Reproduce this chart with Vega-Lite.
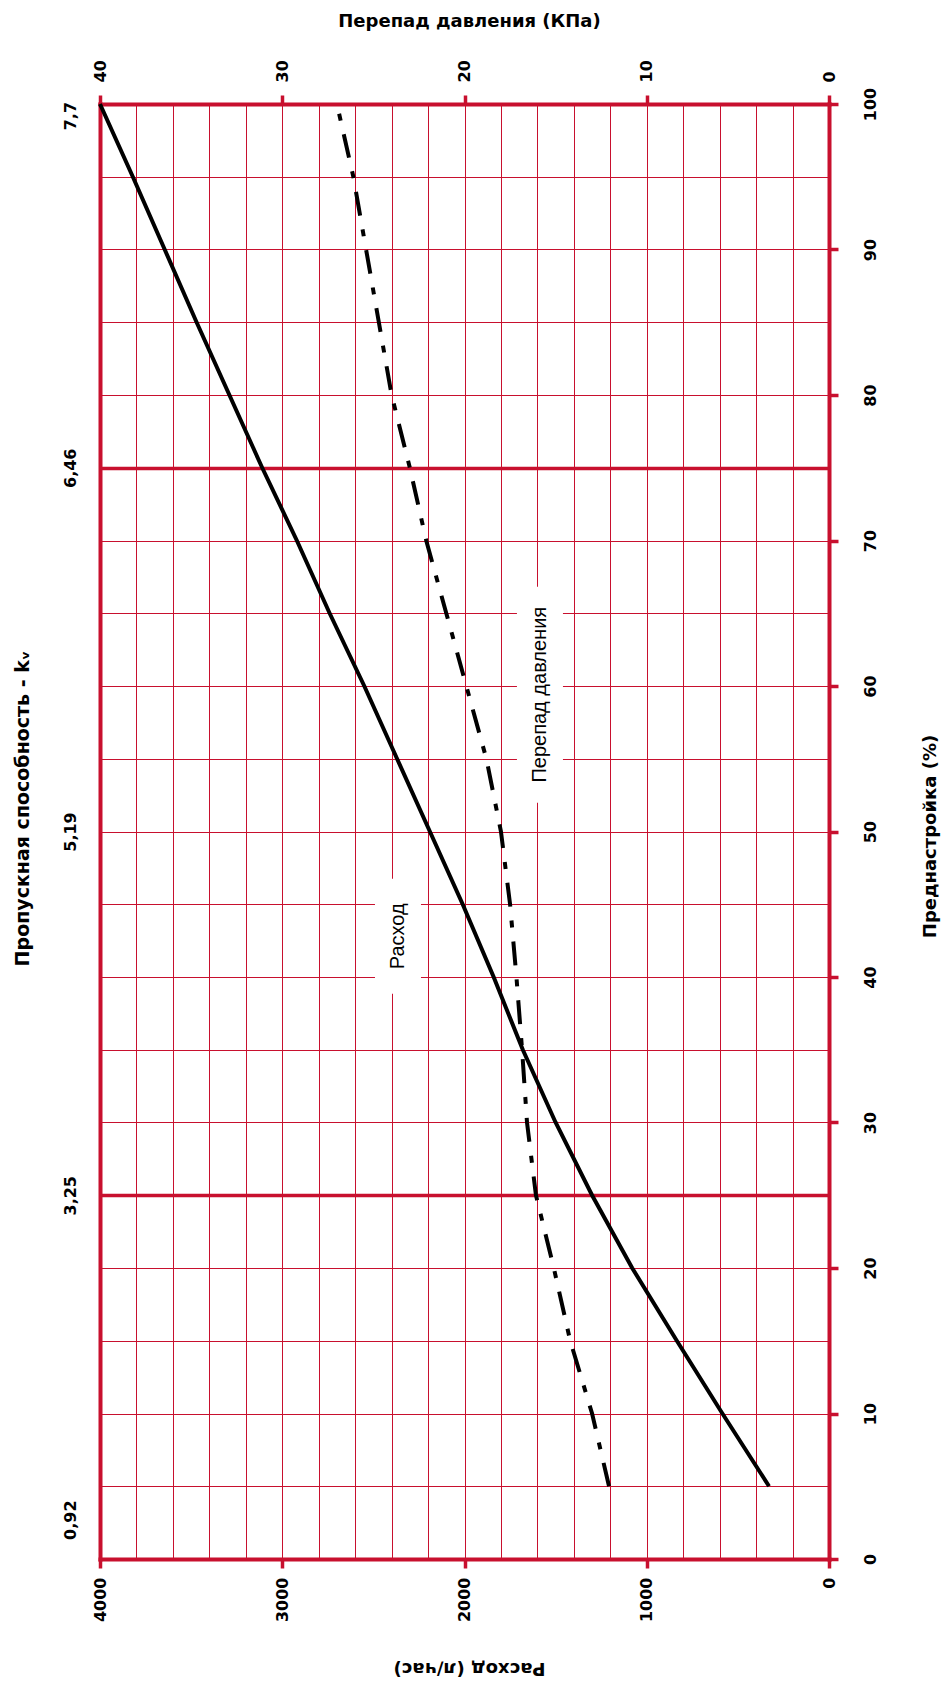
{
  "$schema": "https://vega.github.io/schema/vega-lite/v6.json",
  "width": 729,
  "height": 1455,
  "autosize": "none",
  "padding": {"left": 100, "top": 104, "right": 114, "bottom": 132},
  "background": "white",
  "config": {
    "view": {"stroke": null},
    "axis": {
      "labelFont": "DejaVu Sans",
      "labelFontWeight": "bold",
      "labelFontSize": 16,
      "labelColor": "black",
      "titleFont": "DejaVu Sans",
      "titleFontWeight": "bold",
      "titleFontSize": 18,
      "titleColor": "black",
      "domainColor": "#c8102e",
      "domainWidth": 4,
      "domainCap": "square",
      "tickColor": "#c8102e",
      "tickWidth": 3.5,
      "tickSize": 9,
      "gridColor": "#c8102e",
      "gridOpacity": 1,
      "labelOverlap": false,
      "labelFlush": false,
      "labelBound": false
    }
  },
  "datasets": {
    "flow": [
      {"pct": 5, "flow": 329},
      {"pct": 10, "flow": 585},
      {"pct": 15, "flow": 835},
      {"pct": 20, "flow": 1080},
      {"pct": 25, "flow": 1300},
      {"pct": 30, "flow": 1500},
      {"pct": 35, "flow": 1680},
      {"pct": 40, "flow": 1840},
      {"pct": 45, "flow": 2010},
      {"pct": 50, "flow": 2190},
      {"pct": 55, "flow": 2370},
      {"pct": 60, "flow": 2550},
      {"pct": 65, "flow": 2740},
      {"pct": 70, "flow": 2920},
      {"pct": 75, "flow": 3110},
      {"pct": 80, "flow": 3290},
      {"pct": 85, "flow": 3470},
      {"pct": 90, "flow": 3645},
      {"pct": 95, "flow": 3820},
      {"pct": 100, "flow": 4000}
    ],
    "dp": [
      {"pct": 5, "dp": 12.07},
      {"pct": 10, "dp": 13.0},
      {"pct": 15, "dp": 14.2},
      {"pct": 20, "dp": 15.1},
      {"pct": 25, "dp": 16.08},
      {"pct": 30, "dp": 16.57},
      {"pct": 35, "dp": 16.84},
      {"pct": 40, "dp": 17.15},
      {"pct": 45, "dp": 17.5},
      {"pct": 50, "dp": 18.0},
      {"pct": 55, "dp": 18.8},
      {"pct": 60, "dp": 19.9},
      {"pct": 65, "dp": 21.0},
      {"pct": 70, "dp": 22.1},
      {"pct": 75, "dp": 23.0},
      {"pct": 80, "dp": 24.0},
      {"pct": 85, "dp": 24.7},
      {"pct": 90, "dp": 25.4},
      {"pct": 95, "dp": 26.1},
      {"pct": 100, "dp": 27.0}
    ],
    "labels": [
      {"label": "Расход", "flow": 2365, "pct": 42.8},
      {"label": "Перепад давления", "flow": 1586, "pct": 59.4}
    ]
  },
  "layer": [
    {
      "data": {"name": "flow"},
      "mark": {"type": "line", "color": "black", "strokeWidth": 4, "strokeCap": "butt"},
      "encoding": {
        "order": {"field": "pct", "type": "quantitative"},
        "x": {
          "field": "flow", "type": "quantitative",
          "scale": {"domain": [0, 4000], "reverse": true, "nice": false, "zero": false},
          "axis": {
            "orient": "bottom",
            "title": "Расход (л/час)",
            "titleAngle": 180,
            "titleAlign": "center",
            "titleBaseline": "alphabetic",
            "titleX": 369,
            "titleY": 103,
            "values": [0, 200, 400, 600, 800, 1000, 1200, 1400, 1600, 1800, 2000, 2200, 2400, 2600, 2800, 3000, 3200, 3400, 3600, 3800, 4000],
            "labelExpr": "datum.value % 1000 === 0 ? datum.label : ''",
            "format": "d",
            "labelAngle": 270,
            "labelAlign": "right",
            "labelBaseline": "middle",
            "labelPadding": 9,
            "grid": true,
            "gridWidth": 1,
            "tickOpacity": {"condition": {"test": "datum.value % 1000 === 0", "value": 1}, "value": 0}
          }
        },
        "y": {
          "field": "pct", "type": "quantitative",
          "scale": {"domain": [0, 100], "nice": false, "zero": false},
          "axis": {
            "orient": "right",
            "title": "Преднастройка (%)",
            "titleAngle": 270,
            "titleAlign": "center",
            "titleBaseline": "alphabetic",
            "titleX": 106,
            "titleY": 732,
            "values": [0, 5, 10, 15, 20, 25, 30, 35, 40, 45, 50, 55, 60, 65, 70, 75, 80, 85, 90, 95, 100],
            "labelExpr": "datum.value % 10 === 0 ? datum.label : ''",
            "labelAngle": 270,
            "labelAlign": "center",
            "labelBaseline": "alphabetic",
            "labelPadding": 37,
            "grid": true,
            "gridWidth": {"condition": {"test": "datum.value === 25 || datum.value === 75", "value": 3.5}, "value": 1},
            "tickOpacity": {"condition": {"test": "datum.value % 10 === 0", "value": 1}, "value": 0}
          }
        }
      }
    },
    {
      "data": {"name": "dp"},
      "mark": {"type": "line", "color": "black", "strokeWidth": 4, "strokeCap": "butt", "strokeDash": [24, 14, 7, 14]},
      "encoding": {
        "order": {"field": "pct", "type": "quantitative"},
        "x": {
          "field": "dp", "type": "quantitative",
          "scale": {"domain": [0, 40], "reverse": true, "nice": false, "zero": false},
          "axis": {
            "orient": "top",
            "title": "Перепад давления (КПа)",
            "titleAlign": "center",
            "titleBaseline": "alphabetic",
            "titleX": 369,
            "titleY": -78,
            "values": [0, 10, 20, 30, 40],
            "labelAngle": 270,
            "labelAlign": "left",
            "labelBaseline": "middle",
            "labelPadding": 13,
            "grid": false
          }
        },
        "y": {
          "field": "pct", "type": "quantitative",
          "scale": {"domain": [0, 100], "nice": false, "zero": false},
          "axis": {
            "orient": "left",
            "title": "Пропускная способность - kᵥ",
            "titleFontSize": 19,
            "titleAngle": 270,
            "titleAlign": "center",
            "titleBaseline": "alphabetic",
            "titleX": -72,
            "titleY": 704,
            "values": [2.7, 25, 50, 75, 99.2],
            "labelExpr": "datum.value < 10 ? '0,92' : datum.value < 30 ? '3,25' : datum.value < 60 ? '5,19' : datum.value < 90 ? '6,46' : '7,7'",
            "labelAngle": 270,
            "labelAlign": "center",
            "labelBaseline": "alphabetic",
            "labelPadding": 25,
            "ticks": false,
            "tickSize": 0,
            "grid": false
          }
        }
      }
    },
    {
      "data": {"name": "labels"},
      "transform": [{"filter": "datum.label === 'Расход'"}],
      "mark": {"type": "point", "shape": "M-0.4,-1H0.4V1H-0.4Z", "size": 13225, "filled": true, "color": "white", "opacity": 1, "strokeWidth": 0},
      "encoding": {
        "x": {"field": "flow", "type": "quantitative", "scale": {"domain": [0, 4000], "reverse": true, "nice": false, "zero": false}, "axis": null},
        "y": {"field": "pct", "type": "quantitative", "scale": {"domain": [0, 100], "nice": false, "zero": false}, "axis": null}
      }
    },
    {
      "data": {"name": "labels"},
      "transform": [{"filter": "datum.label === 'Перепад давления'"}],
      "mark": {"type": "point", "shape": "M-0.213,-1H0.213V1H-0.213Z", "size": 46656, "filled": true, "color": "white", "opacity": 1, "strokeWidth": 0},
      "encoding": {
        "x": {"field": "flow", "type": "quantitative", "scale": {"domain": [0, 4000], "reverse": true, "nice": false, "zero": false}, "axis": null},
        "y": {"field": "pct", "type": "quantitative", "scale": {"domain": [0, 100], "nice": false, "zero": false}, "axis": null}
      }
    },
    {
      "data": {"name": "labels"},
      "mark": {"type": "text", "angle": 270, "align": "center", "baseline": "middle", "font": "Liberation Sans", "fontSize": 20, "color": "black"},
      "encoding": {
        "x": {"field": "flow", "type": "quantitative", "scale": {"domain": [0, 4000], "reverse": true, "nice": false, "zero": false}, "axis": null},
        "y": {"field": "pct", "type": "quantitative", "scale": {"domain": [0, 100], "nice": false, "zero": false}, "axis": null},
        "text": {"field": "label", "type": "nominal"}
      }
    }
  ],
  "resolve": {"scale": {"x": "independent"}, "axis": {"x": "independent", "y": "independent"}}
}
